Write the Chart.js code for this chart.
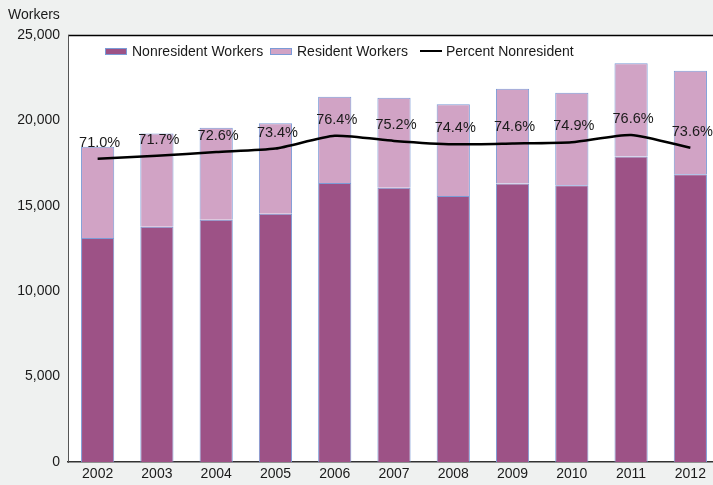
<!DOCTYPE html>
<html>
<head>
<meta charset="utf-8">
<script src="https://cdn.jsdelivr.net/npm/chart.js"></script>
<style>
    body { margin: 0; background: #eff1f0; overflow: hidden; font-family: "Liberation Sans", Arial, sans-serif; color: #1a1a1a; }
    #wrap { position: relative; width: 713px; height: 485px; overflow: hidden; }
    #ytitle { position: absolute; left: 8px; top: 6px; font-size: 14px; }
    .lg { position: absolute; top: 43px; font-size: 14px; line-height: 16px; white-space: nowrap; }
    .box { position: absolute; top: 48px; width: 20px; height: 5px; border: 1px solid #7b9bd6; }
    .ln { position: absolute; top: 50px; width: 22px; height: 2px; background: #000; }
</style>
</head>
<body>
<div id="wrap">
    <canvas id="myChart" width="720" height="485"></canvas>
    <div id="ytitle">Workers</div>
    <div class="box" style="left:105px;background:#9d5286"></div>
    <div class="lg" style="left:132px">Nonresident Workers</div>
    <div class="box" style="left:270px;background:#d1a3c5"></div>
    <div class="lg" style="left:297px">Resident Workers</div>
    <div class="ln" style="left:420px"></div>
    <div class="lg" style="left:446px">Percent Nonresident</div>
</div>
<script>
    const years = ['2002','2003','2004','2005','2006','2007','2008','2009','2010','2011','2012']
    const nonresident = [13110, 13780, 14190, 14540, 16330, 16050, 15580, 16300, 16200, 17880, 16850]
    const resident = [5350, 5460, 5380, 5290, 5060, 5280, 5360, 5560, 5420, 5460, 6060]
    const percentNonres = [71.0, 71.7, 72.6, 73.4, 76.4, 75.2, 74.4, 74.6, 74.9, 76.6, 73.6]
    const percentLabels = ['71.0%','71.7%','72.6%','73.4%','76.4%','75.2%','74.4%','74.6%','74.9%','76.6%','73.6%']

    const plotBg = {
        id: 'plotBg',
        beforeDraw(chart) {
            const {ctx, chartArea: a} = chart
            ctx.save()
            ctx.fillStyle = '#ffffff'
            ctx.fillRect(a.left, a.top, a.right - a.left, a.bottom - a.top)
            ctx.strokeStyle = '#000'
            ctx.lineWidth = 1.5
            ctx.beginPath()
            ctx.moveTo(a.left, a.top + 0.5)
            ctx.lineTo(a.right, a.top + 0.5)
            ctx.stroke()
            ctx.restore()
        }
    }

    const pctLabels = {
        id: 'pctLabels',
        afterDatasetsDraw(chart) {
            const ctx = chart.ctx
            const meta = chart.getDatasetMeta(2)
            ctx.save()
            ctx.font = '14.5px "Liberation Sans", Arial, sans-serif'
            ctx.fillStyle = '#1a1a1a'
            ctx.textAlign = 'center'
            ctx.textBaseline = 'middle'
            meta.data.forEach((pt, i) => {
                ctx.fillText(percentLabels[i], pt.x + 2, pt.y - 16)
            })
            ctx.restore()
        }
    }

    const font = { family: '"Liberation Sans", Arial, sans-serif', size: 14 }

    new Chart(document.getElementById('myChart'), {
        type: 'bar',
        data: {
            labels: years,
            datasets: [
                { label: 'Nonresident Workers', data: nonresident, backgroundColor: '#9d5286', borderColor: '#7b9bd6', borderWidth: 1, stack: 's', order: 2 },
                { label: 'Resident Workers', data: resident, backgroundColor: '#d1a3c5', borderColor: '#7b9bd6', borderWidth: 1, stack: 's', order: 2 },
                { type: 'line', label: 'Percent Nonresident', data: percentNonres, yAxisID: 'y1', borderColor: '#000', borderWidth: 2.5, pointRadius: 0, tension: 0.2, order: 1 }
            ]
        },
        options: {
            responsive: false,
            animation: false,
            layout: { padding: { top: 35, right: 0, bottom: 0, left: 0 } },
            plugins: { legend: { display: false }, tooltip: { enabled: false } },
            datasets: { bar: { categoryPercentage: 1, barPercentage: 0.56 } },
            scales: {
                x: {
                    stacked: true,
                    grid: { display: false, drawTicks: false },
                    border: { display: true, color: '#333', width: 1.5 },
                    ticks: { font, color: '#1a1a1a', padding: 4, maxRotation: 0 },
                    afterFit: s => { s.height = 23 }
                },
                y: {
                    stacked: true,
                    min: 0, max: 25000,
                    grid: { display: false, drawTicks: false },
                    border: { display: true, color: '#555', width: 1 },
                    ticks: { font, color: '#1a1a1a', stepSize: 5000, padding: 8, callback: v => v.toLocaleString('en-US') },
                    afterFit: s => { s.width = 68 }
                },
                y1: { display: false, min: 0, max: 100 }
            }
        },
        plugins: [plotBg, pctLabels]
    })
</script>
</body>
</html>
